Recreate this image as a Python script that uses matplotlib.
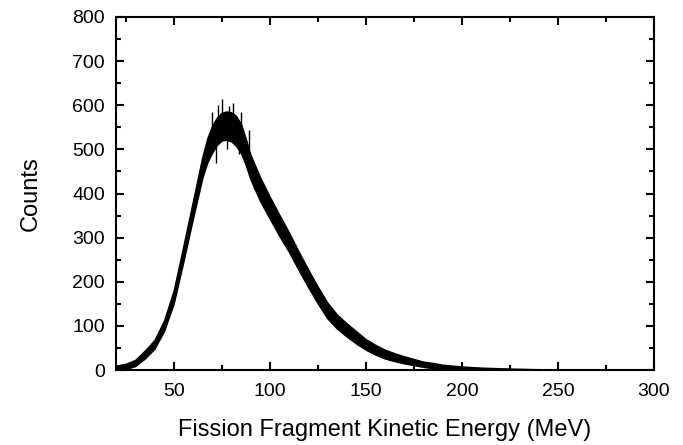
import numpy as np
import matplotlib.pyplot as plt
from matplotlib.ticker import MultipleLocator

plt.rcParams['font.family'] = ['Liberation Sans', 'DejaVu Sans']

# energy grid (MeV) and envelope of the noisy spectrum
energy = [20, 25, 30, 35, 40, 45, 50, 55, 60, 65, 67.5, 70, 72.5, 75, 77.5,
          80, 82.5, 85, 87.5, 90, 95, 100, 105, 110, 115, 120, 125, 130, 135,
          140, 145, 150, 155, 160, 165, 170, 175, 180, 185, 190, 195, 200,
          210, 220, 230, 240, 250]
lower = [0, 2, 9, 26, 48, 88, 150, 244, 342, 436, 470, 492, 510, 520, 522,
         518, 508, 492, 465, 432, 383, 343, 304, 268, 227, 188, 151, 117, 94,
         76, 60, 46, 35, 26, 20, 15, 11, 7, 4, 2, 0, 0, 0, 0, 0, 0, 0]
upper = [10, 14, 23, 44, 68, 112, 180, 280, 382, 484, 525, 553, 572, 583,
         586, 584, 576, 558, 525, 488, 437, 393, 352, 312, 269, 228, 189, 153,
         126, 106, 88, 70, 57, 46, 38, 31, 25, 19, 16, 12, 10, 8, 5.5, 4, 2.8,
         1.9, 1.2]

# noise spikes standing out of the band near the peak
spike_x = [70, 73, 75, 79, 81, 85, 89, 72, 78, 84, 92]
spike_lo = [540, 560, 570, 570, 570, 545, 500, 470, 500, 490, 410]
spike_hi = [585, 600, 615, 598, 605, 585, 545, 520, 540, 530, 460]

fig = plt.figure(figsize=(6.83, 4.45), dpi=100)
ax = fig.add_axes([0.1698, 0.1685, 0.7877, 0.7933])

ax.fill_between(energy, lower, upper, color='black', linewidth=1.0,
                edgecolor='black')
ax.vlines(spike_x, spike_lo, spike_hi, color='black', linewidth=1.0)

ax.set_xlim(20, 300)
ax.set_ylim(0, 800)
ax.xaxis.set_major_locator(MultipleLocator(50))
ax.xaxis.set_minor_locator(MultipleLocator(25))
ax.yaxis.set_major_locator(MultipleLocator(100))
ax.yaxis.set_minor_locator(MultipleLocator(50))

ax.tick_params(which='both', direction='in', top=True, right=True,
               width=1.5, labelsize=14)
ax.tick_params(which='major', length=5.5)
ax.tick_params(which='minor', length=3.5)
ax.tick_params(axis='y', pad=8)
ax.tick_params(axis='x', pad=9)
for s in ax.spines.values():
    s.set_linewidth(1.5)

ax.set_xlabel('Fission Fragment Kinetic Energy (MeV)', fontsize=17, labelpad=14)
ax.set_ylabel('Counts', fontsize=17, labelpad=22)

fig.savefig('out.png', dpi=100)
